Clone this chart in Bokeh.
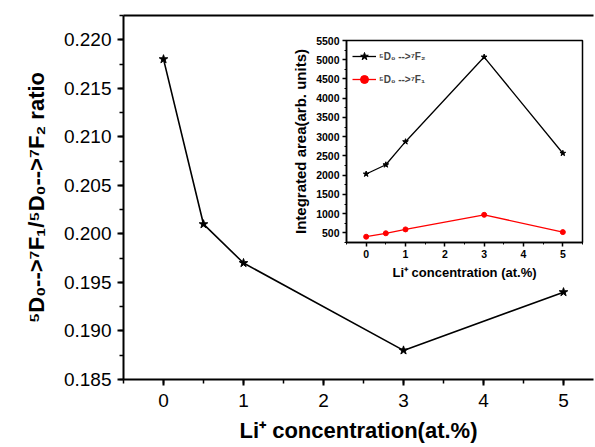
from bokeh.plotting import figure
from bokeh.layouts import column
from bokeh.models import (SingleIntervalTicker, NumeralTickFormatter, Range1d, Legend,
                          LinearAxis, FixedTicker)
from bokeh.embed import file_html
from bokeh.resources import INLINE

# main data
li_conc = [0, 0.5, 1, 3, 5]
ratio = [0.218, 0.201, 0.197, 0.188, 0.194]

# inset data
f2_area = [2030, 2270, 2870, 5070, 2570]
f1_area = [400, 490, 590, 970, 520]

FONT = "Liberation Sans"

p = figure(width=595, height=447, output_backend="svg", toolbar_location=None,
           x_range=Range1d(-0.5, 5.375), y_range=Range1d(0.185, 0.2225),
           x_axis_location=None, y_axis_location=None,
           min_border_left=123, min_border_right=2, min_border_top=15, min_border_bottom=68)
p.outline_line_color = None
p.xgrid.visible = False
p.ygrid.visible = False
p.background_fill_color = "white"
p.border_fill_color = "white"

p.line(li_conc, ratio, line_color="black", line_width=1.6)
p.scatter(li_conc, ratio, marker="star", size=9, fill_color="black", line_color="black")

xax = LinearAxis()
yax = LinearAxis()
p.add_layout(xax, "below")
p.add_layout(yax, "left")

# top border line as an unlabeled axis with no ticks
top_ax = LinearAxis(ticker=FixedTicker(ticks=[]), major_tick_line_color=None,
                    minor_tick_line_color=None, major_label_standoff=0,
                    axis_line_width=2)
p.add_layout(top_ax, "above")

for ax in (xax, yax):
    ax.axis_line_width = 2
    ax.major_tick_line_width = 2
    ax.minor_tick_line_width = 1.5
    ax.major_tick_out = 6
    ax.major_tick_in = 0
    ax.minor_tick_out = 4
    ax.minor_tick_in = 0
    ax.major_label_text_font = FONT
    ax.major_label_text_font_size = "19px"
    ax.major_label_text_color = "black"
    ax.axis_label_text_font = FONT
    ax.axis_label_text_font_style = "bold"
    ax.axis_label_text_font_size = "22px"
    ax.axis_label_text_color = "black"

xax.ticker = SingleIntervalTicker(interval=1, num_minor_ticks=2)
yax.ticker = SingleIntervalTicker(interval=0.005, num_minor_ticks=2)
yax.formatter = NumeralTickFormatter(format="0.000")
xax.axis_label = "Li\u207a concentration(at.%)"
yax.axis_label = "\u2075D\u2080-->\u2077F\u2081/\u2075D\u2080-->\u2077F\u2082 ratio"
xax.major_label_standoff = 8
yax.major_label_standoff = 6
yax.axis_label_standoff = 12
xax.axis_label_standoff = 8

# inset (left/right borders match the main plot so the column alignment is neutral)
p2 = figure(frame_width=236, frame_height=202, output_backend="svg", toolbar_location=None,
            x_range=Range1d(-0.5, 5.5), y_range=Range1d(250, 5500),
            x_axis_location=None, y_axis_location=None,
            min_border_left=123, min_border_right=2, min_border_top=10, min_border_bottom=38)
p2.xgrid.visible = False
p2.ygrid.visible = False
p2.outline_line_color = "black"
p2.outline_line_width = 1.5
p2.background_fill_color = "white"
p2.border_fill_color = None

l1 = p2.line(li_conc, f2_area, line_color="black", line_width=1.3)
s1 = p2.scatter(li_conc, f2_area, marker="star", size=6, fill_color="black", line_color="black")
l2 = p2.line(li_conc, f1_area, line_color="red", line_width=1.3)
s2 = p2.scatter(li_conc, f1_area, marker="circle", size=5, fill_color="red", line_color="red")

legend = Legend(items=[("\u2075D\u2080 -->\u2077F\u2082", [l1, s1]),
                       ("\u2075D\u2080 -->\u2077F\u2081", [l2, s2])],
                location="top_left", border_line_color=None, background_fill_alpha=0,
                label_text_font=FONT, label_text_font_size="10px", label_text_font_style="bold",
                glyph_width=24, spacing=3, padding=4, margin=6, label_standoff=3)
p2.add_layout(legend)

ixax = LinearAxis()
iyax = LinearAxis()
p2.add_layout(ixax, "below")
p2.add_layout(iyax, "left")

for ax in (ixax, iyax):
    ax.axis_line_width = 1.5
    ax.major_tick_line_width = 1.5
    ax.minor_tick_line_width = 1
    ax.major_tick_out = 4
    ax.major_tick_in = 0
    ax.minor_tick_out = 2
    ax.minor_tick_in = 0
    ax.major_label_text_font = FONT
    ax.major_label_text_font_size = "10.5px"
    ax.major_label_text_font_style = "bold"
    ax.major_label_text_color = "black"
    ax.axis_label_text_font = FONT
    ax.axis_label_text_font_style = "bold"
    ax.axis_label_text_color = "black"
    ax.major_label_standoff = 3
    ax.axis_label_standoff = 4

ixax.ticker = SingleIntervalTicker(interval=1, num_minor_ticks=2)
iyax.ticker = SingleIntervalTicker(interval=500, num_minor_ticks=2)
ixax.axis_label = "Li\u207a concentration (at.%)"
iyax.axis_label = "Integrated area(arb. units)"
ixax.axis_label_text_font_size = "13px"
iyax.axis_label_text_font_size = "15px"

p2.margin = (-417, 0, 0, 223)

layout = column(p, p2, spacing=0)

open("out.html", "w").write(file_html(layout, INLINE))
